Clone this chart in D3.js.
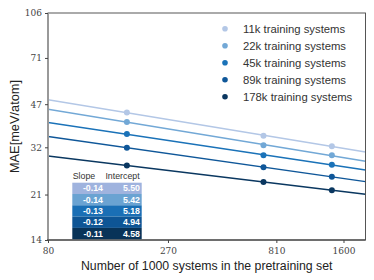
<!DOCTYPE html>
<html><head><meta charset="utf-8">
<script src="https://cdn.jsdelivr.net/npm/d3@7"></script>
<style>body{margin:0;background:#fff}svg{display:block}</style>
</head><body><div id="c"></div>
<script>
const xValues = [178, 711, 1422];
const seriesNames = ["11k training systems","22k training systems","45k training systems","89k training systems","178k training systems"];
const s11k = [43.6, 35.5, 32.3];
const s22k = [40.1, 32.6, 29.8];
const s45k = [36.0, 29.8, 27.4];
const s89k = [31.9, 26.8, 24.6];
const s178k = [27.2, 23.5, 21.8];
const slopes = ["-0.14","-0.14","-0.13","-0.12","-0.11"];
const intercepts = ["5.50","5.42","5.18","4.94","4.58"];
const xTicks = [80, 270, 810, 1600];
const yTicks = [14, 21, 32, 47, 71, 106];
const colors = ["#b3c7e6","#72a8d6","#1a72b8","#0f5799","#0a3760"];
const tableColors = ["#9fb3de","#6aa3d2","#1a6fb5","#0e5595","#083358"];

const W=374,H=280, L=48, R=365.5, T=13, B=240;
const svg=d3.select("#c").append("svg").attr("width",W).attr("height",H);
const x=d3.scaleLog().domain([80,2000]).range([L,R]);
const y=d3.scaleLog().domain([14,106]).range([B,T]);
const series=[s11k,s22k,s45k,s89k,s178k];
const sans="'Liberation Sans', Arial, sans-serif";

svg.append("clipPath").attr("id","clip").append("rect").attr("x",L).attr("y",T).attr("width",R-L).attr("height",B-T);

// fits
series.forEach((vals,i)=>{
  const lx=xValues.map(v=>Math.log(v)), ly=vals.map(v=>Math.log(v));
  const mx=d3.mean(lx), my=d3.mean(ly);
  const b=d3.sum(lx.map((v,k)=>(v-mx)*(ly[k]-my)))/d3.sum(lx.map(v=>(v-mx)**2));
  const a=my-b*mx;
  const f=n=>Math.exp(a+b*Math.log(n));
  const dom=x.domain();
  svg.append("line").attr("clip-path","url(#clip)")
    .attr("x1",x(dom[0])).attr("y1",y(f(dom[0]))).attr("x2",x(dom[1])).attr("y2",y(f(dom[1])))
    .attr("stroke",colors[i]).attr("stroke-width",1.5);
  svg.selectAll(null).data(vals).enter().append("circle")
    .attr("cx",(d,k)=>x(xValues[k])).attr("cy",d=>y(d)).attr("r",3).attr("fill",colors[i]);
});

// frame
svg.append("rect").attr("x",L).attr("y",T).attr("width",R-L).attr("height",B-T).attr("fill","none").attr("stroke","#444").attr("stroke-width",0.9);
svg.append("line").attr("x1",L).attr("x2",L).attr("y1",T).attr("y2",B).attr("stroke","#999").attr("stroke-width",2);
svg.append("line").attr("x1",L-1).attr("x2",R).attr("y1",B).attr("y2",B).attr("stroke","#333").attr("stroke-width",1);

// axes
const xa=d3.axisBottom(x).tickValues(xTicks).tickFormat(d3.format("d")).tickSize(3).tickSizeOuter(0);
const gx=svg.append("g").attr("transform",`translate(0,${B})`).call(xa);
gx.select(".domain").remove();
gx.selectAll("text").attr("font-family","'DejaVu Serif', serif").attr("font-size",9).attr("fill","#444").attr("dy","0.9em");
gx.selectAll("line").attr("stroke","#444");
const ya=d3.axisLeft(y).tickValues(yTicks).tickFormat(d3.format("d")).tickSize(3).tickSizeOuter(0);
const gy=svg.append("g").attr("transform",`translate(${L},0)`).call(ya);
gy.select(".domain").remove();
gy.selectAll("text").attr("font-family","'DejaVu Serif', serif").attr("font-size",9).attr("fill","#444");
gy.selectAll("line").attr("stroke","#444");

svg.append("text").attr("x",(L+R)/2).attr("y",269.5).attr("text-anchor","middle")
  .attr("font-family",sans).attr("font-size",12.3).attr("fill","#222")
  .text("Number of 1000 systems in the pretraining set");
svg.append("text").attr("transform",`translate(19,${(T+B)/2}) rotate(-90)`).attr("text-anchor","middle")
  .attr("font-family",sans).attr("font-size",12.8).attr("fill","#222")
  .text("MAE[meV/atom]");

// legend
const lg=svg.append("g");
seriesNames.forEach((n,i)=>{
  const yy=28.7+i*17;
  lg.append("circle").attr("cx",225).attr("cy",yy).attr("r",2.8).attr("fill",colors[i]);
  lg.append("text").attr("x",243).attr("y",yy).attr("dy","0.35em")
    .attr("font-family",sans).attr("font-size",11.3).attr("fill","#333").text(n);
});

// table
const tx=72.3, tw=69.4, tTop=182.7, rh=11.3;
const tg=svg.append("g");
tg.append("text").attr("x",84).attr("y",179).attr("text-anchor","middle").attr("font-family",sans).attr("font-size",8.8).attr("fill","#333").text("Slope");
tg.append("text").attr("x",122.5).attr("y",179).attr("text-anchor","middle").attr("font-family",sans).attr("font-size",8.8).attr("fill","#333").text("Intercept");
slopes.forEach((s,i)=>{
  const yy=tTop+i*rh;
  tg.append("rect").attr("x",tx).attr("y",yy).attr("width",tw).attr("height",rh).attr("fill",tableColors[i]);
  tg.append("text").attr("x",103).attr("y",yy+rh/2).attr("dy","0.35em").attr("text-anchor","end").attr("font-family",sans).attr("font-size",8.8).attr("font-weight","bold").attr("fill","#fff").text(s);
  tg.append("text").attr("x",140).attr("y",yy+rh/2).attr("dy","0.35em").attr("text-anchor","end").attr("font-family",sans).attr("font-size",8.8).attr("font-weight","bold").attr("fill","#fff").text(intercepts[i]);
});
</script></body></html>
